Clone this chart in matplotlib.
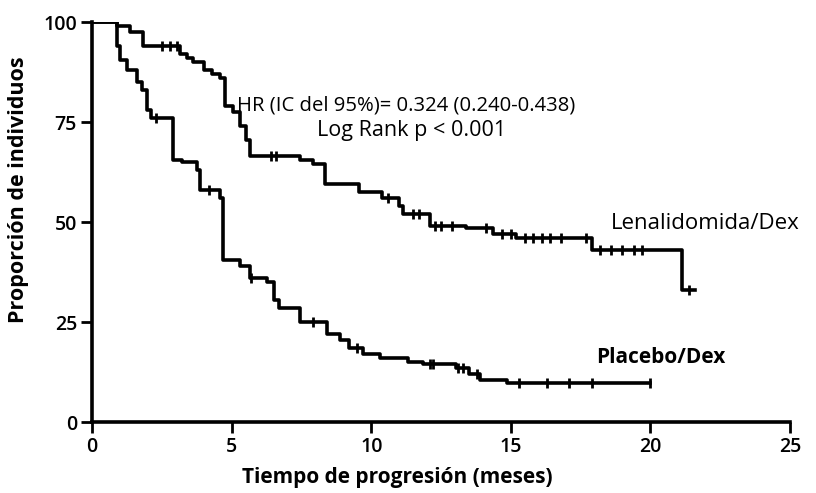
import numpy as np
import matplotlib
matplotlib.use("Agg")
import matplotlib.pyplot as plt

plt.rcParams['font.family'] = ['Open Sans', 'DejaVu Sans']

# Lenalidomida/Dex step curve
len_t = [0, 0.88, 1.36, 1.83, 3.15, 3.4, 3.6, 4.0, 4.3, 4.58, 4.75, 5.05, 5.3, 5.5, 5.65,
         7.45, 7.9, 8.35, 9.55, 10.4, 11.0, 11.15, 12.1, 13.4, 14.35, 15.2, 17.9, 21.15, 21.6]
len_s = [100, 99, 97.5, 94, 92, 91, 90, 88, 87, 86, 79, 77.5, 74, 70.5, 66.5,
         65.5, 64.5, 59.5, 57.5, 56, 54, 52, 49, 48.5, 47, 46, 43, 33, 33]
len_cens = [2.5, 2.8, 3.05, 6.4, 6.6, 10.6, 11.5, 11.7, 12.3, 12.5, 12.9, 14.1, 14.7,
            15.0, 15.5, 15.8, 16.1, 16.4, 16.8, 17.7, 18.2, 18.6, 19.0, 19.4, 19.7, 21.4]

# Placebo/Dex step curve
pla_t = [0, 0.9, 1.0, 1.25, 1.6, 1.8, 1.95, 2.1, 2.9, 3.2, 3.75, 3.85, 4.58, 4.7, 5.3,
         5.65, 6.25, 6.5, 6.7, 7.45, 8.4, 8.87, 9.2, 9.7, 10.3, 11.3, 11.85, 13.05, 13.5,
         13.9, 14.85, 20.0]
pla_s = [100, 94, 90.5, 88, 85, 83, 78, 76, 65.5, 65, 63, 58, 56, 40.5, 39,
         36, 35, 30.5, 28.5, 25, 22, 20.5, 18.5, 17, 16, 15, 14.5, 13.5, 12,
         10.5, 9.7, 9.7]
pla_cens = [2.3, 4.2, 5.7, 7.9, 9.5, 12.1, 12.2, 13.1, 13.3, 13.8, 15.3, 16.3, 17.1, 17.9, 20.0]

x_ticks = [0, 5, 10, 15, 20, 25]
y_ticks = [0, 25, 50, 75, 100]

fig = plt.figure(figsize=(8.16, 4.93), dpi=100)
ax = fig.add_axes([0.113, 0.144, 0.855, 0.811])

def surv_at(ts, ss, c):
    idx = np.searchsorted(ts, c, side='right') - 1
    return np.array(ss)[idx]

for ts, ss, cs in [(len_t, len_s, len_cens), (pla_t, pla_s, pla_cens)]:
    ax.step(ts, ss, where='post', color='black', lw=2.6)
    ax.plot(cs, surv_at(ts, ss, cs), linestyle='none', marker='|', color='black',
            markersize=7, mew=2)

ax.set_xlim(0, 25)
ax.set_ylim(0, 100)
ax.set_xticks(x_ticks)
ax.set_yticks(y_ticks)
ax.tick_params(labelsize=14, width=2, length=8, direction='out', pad=3)
for lab in ax.get_xticklabels() + ax.get_yticklabels():
    lab.set_fontweight('semibold')
for s in ['top', 'right']:
    ax.spines[s].set_visible(False)
for s in ['left', 'bottom']:
    ax.spines[s].set_linewidth(2.6)

ax.set_xlabel('Tiempo de progresión (meses)', fontsize=15, fontweight='bold')
ax.set_ylabel('Proporción de individuos', fontsize=15.5, fontweight='bold')
ax.xaxis.set_label_coords(0.437, -0.112)
ax.yaxis.set_label_coords(-0.09, 0.58)

ax.text(5.19, 79.25, 'HR (IC del 95%)= 0.324 (0.240-0.438)', fontsize=14.6, va='center', ha='left')
ax.text(8.05, 73, 'Log Rank p < 0.001', fontsize=15.5, va='center', ha='left')
ax.text(18.6, 49.75, 'Lenalidomida/Dex', fontsize=16, va='center', ha='left')
ax.text(18.07, 16.25, 'Placebo/Dex', fontsize=15, fontweight='bold', va='center', ha='left')

fig.savefig('out.png', dpi=100)
